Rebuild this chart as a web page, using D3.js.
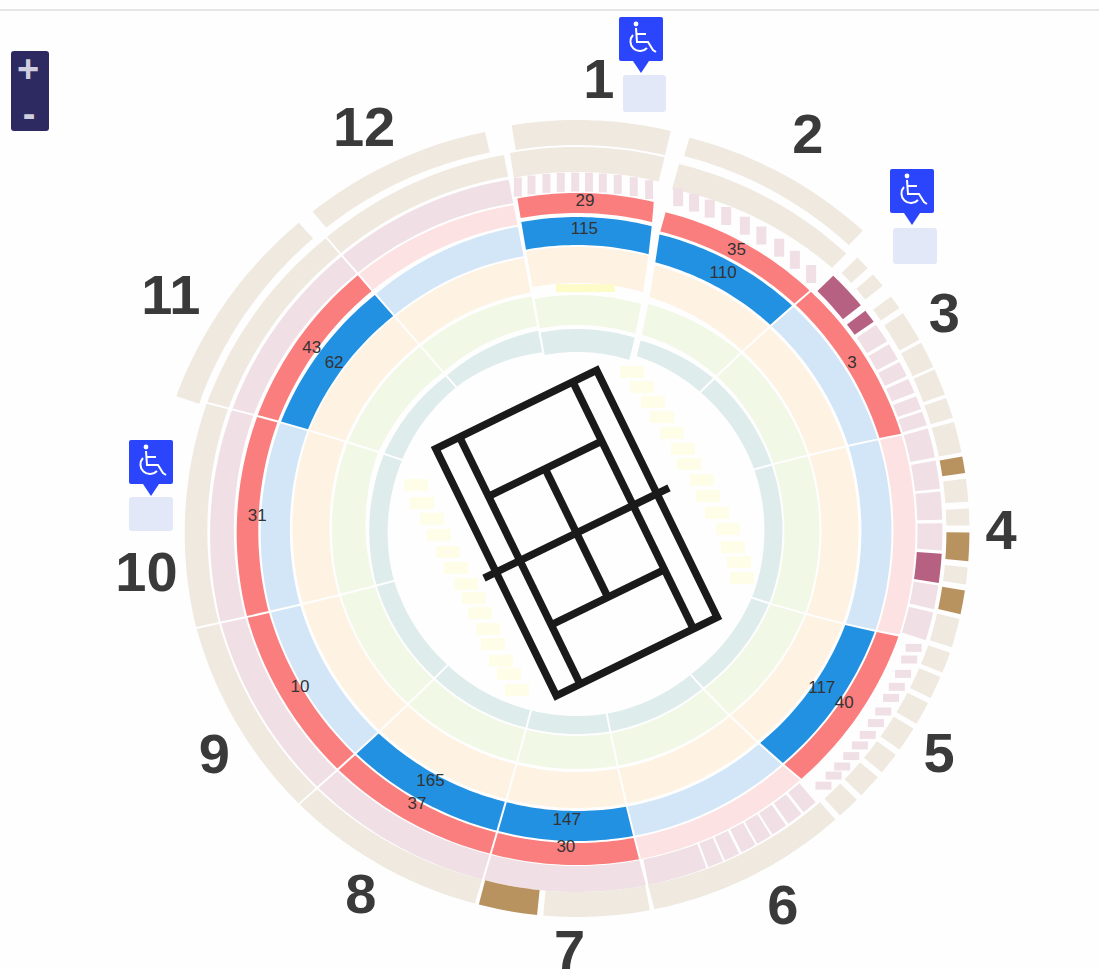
<!DOCTYPE html>
<html lang="en">
<head>
<meta charset="utf-8">
<title>Seating plan</title>
<style>
  html, body { margin: 0; padding: 0; background: #fefefe; overflow: hidden; }
  svg { display: block; }
  text { font-family: "Liberation Sans", Arial, sans-serif; }
</style>
<script src="https://d3js.org/d3.v7.min.js"></script>
</head>
<body>
<div id="chart"></div>
<script>
// sectors, clockwise from the top
var sectors = ["1", "2", "3", "4", "5", "6", "7", "8", "9", "10", "11", "12"];
var sectorStart = [-10.8, 15.3, 44.5, 74, 108.5, 138.2, 169, 195, 225, 255, 289, 319];
var sectorEnd = [13.6, 44.5, 74, 108.5, 138.2, 169, 195, 225, 255, 289, 319, 349.2];

// tickets per sector, null = nothing to show
var redCounts = [29, 35, 3, null, 40, null, 30, 37, 10, 31, 43, null];
var blueCounts = [115, 110, null, null, 117, null, 147, 165, null, null, 62, null];

// block spans, in degrees: [start, end, status]
var mauveSpans3 = [[45.6, 52.2, "sold"], [53.2, 55.5, "sold"], [56, 59.3, "open"], [59.7, 62.6, "open"], [63, 65.6, "open"], [66, 68.5, "open"], [69, 71.3, "open"], [71.6, 74, "open"]];
var mauveSpans4 = [[74.4, 79.2, "open"], [79.6, 84.2, "open"], [84.5, 89.1, "open"], [89.5, 93.9, "open"], [94.3, 99, "sold"], [99.3, 103.2, "open"], [103.6, 108.2, "open"]];
var mauveSpans6 = [[139.1, 141.7, "open"], [142, 144.7, "open"], [145, 147.7, "open"], [147.9, 150.5, "open"], [150.7, 153.3, "open"], [153.6, 156.2, "open"], [156.4, 159, "open"], [159.2, 168.8, "open"]];
var tanSpans3 = [[46.2, 48.5, "open"], [49.6, 51.9, "open"], [53.8, 56, "open"], [56.8, 61.5, "open"], [61.9, 66, "open"], [66.3, 70.4, "open"], [70.8, 74, "open"]];
var tanSpans4 = [[74.5, 79.2, "open"], [79.7, 82.3, "sold"], [83, 86.5, "open"], [87.4, 90, "open"], [90.9, 95.2, "sold"], [96, 98.6, "open"], [99.4, 103, "sold"], [103.6, 108, "open"]];
var tanSpans5 = [[108.7, 111.9, "open"], [112.5, 116, "open"], [116.7, 120.3, "open"], [121, 124.8, "open"], [125.6, 129, "open"], [129.8, 133.5, "open"], [134.3, 137.8, "open"]];
var tanSpans7 = [[169.2, 185, "open"], [185.8, 194.6, "sold"]];

// single seats, angle of each one in degrees
var seatAngles1 = [-9.9, -7.6, -5.1, -2.7, -0.3, 2, 4.3, 6.8, 9.5, 12.1];
var seatAngles2 = [17.1, 19.9, 22.7, 25.7, 29.2, 32.4, 36, 39.3, 42.9];
var seatAngles5 = [109.9, 111.9, 114.4, 116.7, 118.7, 121.2, 123.4, 125.7, 127.8, 130, 132.2, 134.2, 136.5];

// courtside seats: angle and distance from the middle
var courtAnglesA = [19.7, 25.1, 31.5, 38, 45.6, 54, 61, 69.8, 77.1, 84.7, 91.1, 97.7, 102.5, 107.5];
var courtRadiiA = [163.5, 153.4, 145.4, 138.2, 132.9, 131, 128, 133.2, 134.4, 140.6, 151, 157.4, 166, 173];
var courtAnglesB = [284.3, 278.4, 272.8, 266.3, 258.6, 250.9, 242.4, 235, 228.1, 220.8, 215.4, 209.4, 204.7, 200.1];
var courtRadiiB = [166.1, 156.7, 145.2, 138.3, 131.6, 128.1, 125.2, 125.7, 130.3, 136.1, 144.8, 154.9, 162.9, 174.6];

// court lines as fractions of width and length
var courtAcross = [0, 0.148, 0.852, 1];
var courtServiceLines = [0.24, 0.76];

var width = 1099, height = 969;
var cx = 577, cy = 526;

var colors = {
  teal: "#dfecec", green: "#f1f8e5", cream: "#fef2e3", lightblue: "#d2e6f7", blue: "#2391e2",
  red: "#fb7e7e", pink: "#fde2e3", mauve: "#f0e0e6", mauveSold: "#b66082",
  tan: "#efe9df", tanSold: "#b8935f", seat: "#fdfde8", bar: "#fdfcc8"
};

// ring edges at the sector borders, inner to outer: the rings are not quite round
var e289 = [187, 206, 212, 244, 247, 284, 286, 314, 317, 338, 342, 364, 368, 390, 397, 421];
var e319 = [184, 199, 204, 238, 241, 277, 279, 307, 312, 333, 335, 358, 361, 382, 390, 411];
var e349 = [177, 199, 204, 234, 238, 273, 275, 305, 307, 327, 329, 353, 356, 378, 383, 404];
var eTop = [174, 197, 201, 231, 243, 279, 281, 309, 313, 333, 333, 353, 354, 379, 381, 406];
var e15 = [180, 196, 202, 233, 240, 272, 275, 303, 306, 326, 333, 349, 350, 376, 385, 404];
var e44 = [182, 201, 205, 238, 241, 276, 279, 308, 311, 331, 335, 358, 363, 383, 391, 411];
var e45 = [182, 201, 205, 238, 241, 276, 279, 308, 311, 331, 336, 358, 366, 388];
var e74 = [186, 204, 206, 241, 243, 280, 283, 313, 315, 337, 339, 364, 368, 391];
var e108 = [189, 207, 209, 244, 246, 283, 286, 316, 318, 340, 342, 367, 371, 394];
var e138 = [187, 205, 207, 242, 244, 281, 284, 314, 316, 338, 340, 365, 368, 391];
var e169 = [190, 208, 210, 243, 246, 282, 285, 315, 317, 339, 340, 366, 366, 391];
var e225 = [190, 208, 210, 245, 247, 284, 287, 317, 319, 341, 343, 368, 370, 393];
var e255 = [191, 209, 211, 246, 248, 285, 288, 318, 320, 342, 344, 369, 371, 394];

var edgesStart = [eTop, e15, e45, e74, e108, e138, e169, e169, e225, e255, e289, e319];
var edgesEnd = [eTop, e44, e74, e108, e138, e169, e169, e225, e255, e289, e319, e349];

// the white lines between sectors do not run quite through the middle:
// angle of a border at the inner and outer end of its stretch
function border(r0, r1, a0, a1) {
  return d3.scaleLinear().domain([r0, r1]).range([a0, a1]).clamp(true);
}
var b23 = border(180, 330, 42.6, 44.8), b34 = border(190, 340, 72.3, 74.3), b45 = border(190, 340, 112.3, 108.8);
var b56 = border(190, 340, 142.6, 138.5), b67 = border(190, 390, 171, 168.7), b78 = border(190, 390, 194, 195);
var b89 = border(190, 390, 222.9, 225), b910 = border(190, 390, 253.3, 255), b1011 = border(190, 390, 290.7, 288.4);
var b1112 = border(190, 390, 319, 319);
var borderStart = [border(180, 390, -11, -10.3), border(180, 300, 19.1, 15.6), b23, b34, b45, b56, b67, b78, b89, b910, b1011, b1112];
var borderEnd = [border(180, 333, 17.8, 13.5), b23, b34, b45, b56, b67, b78, b89, b910, b1011, b1112, border(190, 390, 349, 349)];

var rad = d3.scaleLinear().domain([0, 360]).range([0, 2 * Math.PI]);

var svg = d3.select("#chart").append("svg")
  .attr("width", width)
  .attr("height", height);

svg.append("rect").attr("width", width).attr("height", height).attr("fill", "#fefefe");

// line at the top of the page
svg.append("rect").attr("x", 0).attr("y", 9).attr("width", width).attr("height", 2).attr("fill", "#e6e6e6");

var plan = svg.append("g").attr("transform", "translate(" + cx + "," + cy + ")");
var radial = d3.lineRadial().curve(d3.curveLinearClosed);

// one block of a ring inside sector s; a0 and a1 are functions of the radius
function drawBand(s, ring, a0, a1, fill, pad) {
  var rIn = d3.scaleLinear().domain([sectorStart[s], sectorEnd[s]]).range([edgesStart[s][ring * 2], edgesEnd[s][ring * 2]]).clamp(true);
  var rOut = d3.scaleLinear().domain([sectorStart[s], sectorEnd[s]]).range([edgesStart[s][ring * 2 + 1], edgesEnd[s][ring * 2 + 1]]).clamp(true);
  var n = Math.max(2, Math.ceil(a1(300) - a0(300)));
  var steps = d3.range(0, n + 1).map(function(i) { return i / n; });
  var pts = [];
  function point(t, rScale) {
    var nominal = a0(300) + (a1(300) - a0(300)) * t;
    var r = rScale(nominal);
    var padDeg = (pad / r) * 180 / Math.PI;
    var start = a0(r) + padDeg, end = a1(r) - padDeg;
    return [rad(start + (end - start) * t), r];
  }
  steps.forEach(function(t) { pts.push(point(t, rOut)); });
  steps.slice().reverse().forEach(function(t) { pts.push(point(t, rIn)); });
  plan.append("path").attr("d", radial(pts)).attr("fill", fill);
}

function drawSpans(s, ring, spans, openColor, soldColor) {
  spans.forEach(function(d) {
    drawBand(s, ring, d3.scaleLinear().range([d[0], d[0]]), d3.scaleLinear().range([d[1], d[1]]), d[2] === "sold" ? soldColor : openColor, 0.4);
  });
}

var upperPad = { "0": [0.9, 0], "1": [0.4, -0.6], "10": [-0.6, -1.4], "11": [0.8, -2] };

sectors.forEach(function(name, s) {
  var a0 = borderStart[s], a1 = borderEnd[s];
  drawBand(s, 0, a0, a1, colors.teal, 1);
  drawBand(s, 1, a0, a1, colors.green, 1);
  drawBand(s, 2, a0, a1, colors.cream, 1);
  drawBand(s, 3, a0, a1, blueCounts[s] !== null ? colors.blue : colors.lightblue, 1);
  drawBand(s, 4, a0, a1, redCounts[s] !== null ? colors.red : colors.pink, 1);

  // mauve ring
  if (name === "3") drawSpans(s, 5, mauveSpans3, colors.mauve, colors.mauveSold);
  else if (name === "4") drawSpans(s, 5, mauveSpans4, colors.mauve, colors.mauveSold);
  else if (name === "6") drawSpans(s, 5, mauveSpans6, colors.mauve, colors.mauveSold);
  else if (name !== "1" && name !== "2" && name !== "5") drawBand(s, 5, a0, a1, colors.mauve, 1);

  // tan ring
  if (name === "3") drawSpans(s, 6, tanSpans3, colors.tan, colors.tanSold);
  else if (name === "4") drawSpans(s, 6, tanSpans4, colors.tan, colors.tanSold);
  else if (name === "5") drawSpans(s, 6, tanSpans5, colors.tan, colors.tanSold);
  else if (name === "7") drawSpans(s, 6, tanSpans7, colors.tan, colors.tanSold);
  else drawBand(s, 6, a0, a1, colors.tan, 1);

  // upper tier only on the four sectors at the top
  if (upperPad[s]) {
    var p = upperPad[s];
    drawBand(s, 7, d3.scaleLinear().range([a0(400) + p[0], a0(400) + p[0]]), d3.scaleLinear().range([a1(400) + p[1], a1(400) + p[1]]), colors.tan, 1);
  }
});

// single seats are plain upright rectangles
function drawSeats(angles, radii, w, h, fill) {
  angles.forEach(function(a, i) {
    var r = Array.isArray(radii) ? radii[i] : radii;
    plan.append("rect")
      .attr("x", r * Math.sin(rad(a)) - w / 2)
      .attr("y", -r * Math.cos(rad(a)) - h / 2)
      .attr("width", w)
      .attr("height", h)
      .attr("fill", fill);
  });
}
drawSeats(seatAngles1, 344, 8, 19, colors.mauve);
drawSeats(seatAngles2, 344, 10, 18, colors.mauve);
drawSeats(seatAngles5, 358, 16, 8, colors.mauve);
drawSeats(courtAnglesA, courtRadiiA, 24, 12, colors.seat);
drawSeats(courtAnglesB, courtRadiiB, 24, 12, colors.seat);
drawSeats([2], 238, 59, 8, colors.bar);

// counts in the red and blue blocks
function drawCounts(values, r, nudge) {
  values.forEach(function(v, s) {
    if (v === null) return;
    var a = (sectorStart[s] + sectorEnd[s]) / 2, rr = r + (s === 0 ? nudge : 0);
    plan.append("text")
      .attr("x", rr * Math.sin(rad(a)))
      .attr("y", -rr * Math.cos(rad(a)))
      .attr("dy", "0.35em")
      .attr("text-anchor", "middle")
      .attr("font-size", 17)
      .attr("fill", "#333")
      .text(v);
  });
}
drawCounts(redCounts, 320, 6);
drawCounts(blueCounts, 293, 5);

// sector numbers
var numberAngles = [2.8, 30.4, 59.8, 90.4, 122, 151.4, 181, 210.5, 238, 264, 299.8, 332];
var numberRadii = [449, 456, 425, 424, 427, 430, 423, 426, 427.6, 433, 468, 453.6];
sectors.forEach(function(name, s) {
  plan.append("text")
    .attr("x", numberRadii[s] * Math.sin(rad(numberAngles[s])))
    .attr("y", -numberRadii[s] * Math.cos(rad(numberAngles[s])))
    .attr("dy", "0.36em")
    .attr("text-anchor", "middle")
    .attr("font-size", 56)
    .attr("font-weight", "bold")
    .attr("fill", "#3a3a3a")
    .text(name);
});

// tennis court in the middle, turned by 26 degrees
var courtW = 179, courtH = 275;
var xCourt = d3.scaleLinear().domain([0, 1]).range([-courtW / 2, courtW / 2]);
var yCourt = d3.scaleLinear().domain([0, 1]).range([-courtH / 2, courtH / 2]);
var court = svg.append("g")
  .attr("transform", "translate(576.5,533) rotate(-26)")
  .attr("fill", "none")
  .attr("stroke", "#1a1a1a")
  .attr("stroke-width", 7.5);

court.append("rect")
  .attr("x", xCourt(0)).attr("y", yCourt(0))
  .attr("width", xCourt(1) - xCourt(0)).attr("height", yCourt(1) - yCourt(0));
[courtAcross[1], courtAcross[2]].forEach(function(f) {
  court.append("line").attr("x1", xCourt(f)).attr("x2", xCourt(f)).attr("y1", yCourt(0)).attr("y2", yCourt(1));
});
courtServiceLines.forEach(function(f) {
  court.append("line").attr("x1", xCourt(courtAcross[1])).attr("x2", xCourt(courtAcross[2])).attr("y1", yCourt(f)).attr("y2", yCourt(f));
});
court.append("line").attr("x1", xCourt(0.5)).attr("x2", xCourt(0.5)).attr("y1", yCourt(courtServiceLines[0])).attr("y2", yCourt(courtServiceLines[1]));
court.append("line").attr("x1", xCourt(-0.075)).attr("x2", xCourt(1.075)).attr("y1", yCourt(0.5)).attr("y2", yCourt(0.5));

// wheelchair markers with their pale squares
var markers = [
  { x: 641, y: 39, sq: [623, 75, 43, 37] },
  { x: 912, y: 191, sq: [893, 228, 44, 36] },
  { x: 151, y: 462, sq: [129, 497, 44, 34] }
];
markers.forEach(function(m) {
  svg.append("rect").attr("x", m.sq[0]).attr("y", m.sq[1]).attr("width", m.sq[2]).attr("height", m.sq[3]).attr("rx", 3).attr("fill", "#e3e8f8");
  var g = svg.append("g").attr("transform", "translate(" + m.x + "," + m.y + ")");
  g.append("path")
    .attr("d", "M-20,-22H20Q22,-22 22,-20V20Q22,22 20,22H8L0,34L-8,22H-20Q-22,22 -22,20V-20Q-22,-22 -20,-22Z")
    .attr("fill", "#2a45fb");
  g.append("circle").attr("cx", -5).attr("cy", -15).attr("r", 2.4).attr("fill", "#fff");
  g.append("path")
    .attr("d", "M-5,-11L-4,3H7L12,11L15,13M-4.5,-5H5")
    .attr("fill", "none").attr("stroke", "#fff").attr("stroke-width", 2);
  g.append("path")
    .attr("d", "M-8,-4A9.5,9.5 0 1 0 6,9")
    .attr("fill", "none").attr("stroke", "#fff").attr("stroke-width", 2);
});

// zoom buttons
svg.append("rect").attr("x", 11).attr("y", 51).attr("width", 38).attr("height", 80).attr("rx", 3).attr("fill", "#2d2a62");
svg.append("text").attr("x", 28).attr("y", 82).attr("text-anchor", "middle").attr("font-size", 38).attr("font-weight", "bold").attr("fill", "#cfcfdf").text("+");
svg.append("text").attr("x", 29).attr("y", 127).attr("text-anchor", "middle").attr("font-size", 38).attr("font-weight", "bold").attr("fill", "#cfcfdf").text("-");
</script>
</body>
</html>
